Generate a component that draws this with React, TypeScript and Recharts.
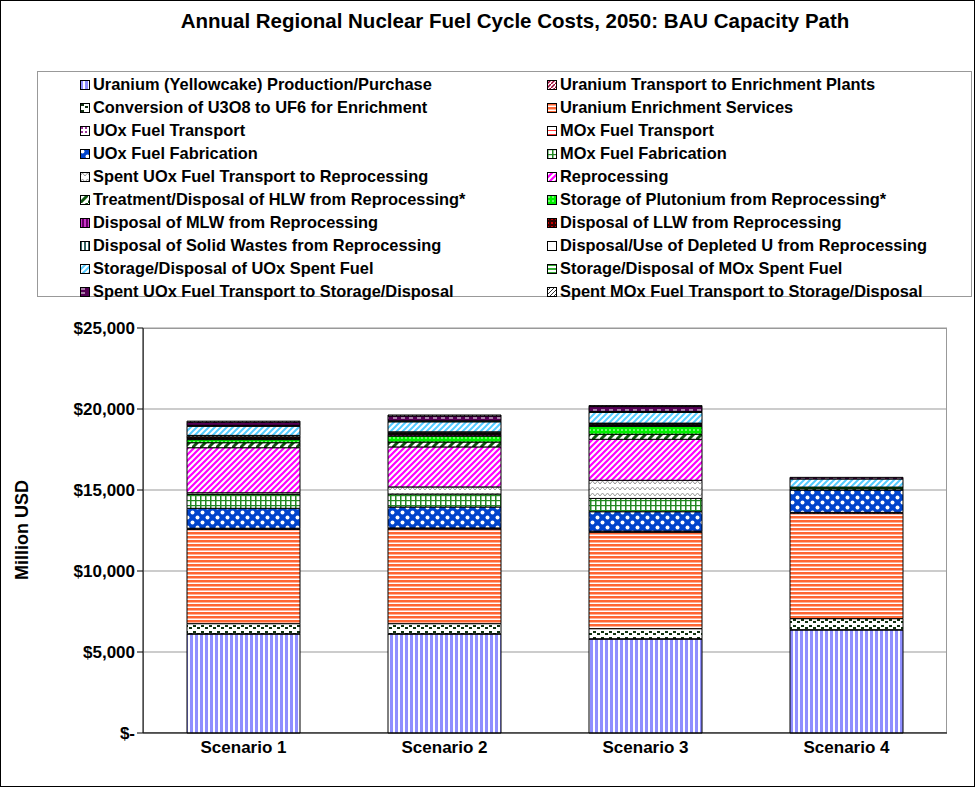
import { BarChart, Bar, XAxis, YAxis, CartesianGrid } from 'recharts';

const scenarios = ['Scenario 1', 'Scenario 2', 'Scenario 3', 'Scenario 4'];

const seriesNames = [
  'Uranium (Yellowcake) Production/Purchase',
  'Uranium Transport to Enrichment Plants',
  'Conversion of U3O8 to UF6 for Enrichment',
  'Uranium Enrichment Services',
  'UOx Fuel Transport',
  'MOx Fuel Transport',
  'UOx Fuel Fabrication',
  'MOx Fuel Fabrication',
  'Spent UOx Fuel Transport to Reprocessing',
  'Reprocessing',
  'Treatment/Disposal of HLW from Reprocessing*',
  'Storage of Plutonium from Reprocessing*',
  'Disposal of MLW from Reprocessing',
  'Disposal of LLW from Reprocessing',
  'Disposal of Solid Wastes from Reprocessing',
  'Disposal/Use of Depleted U from Reprocessing',
  'Storage/Disposal of UOx Spent Fuel',
  'Storage/Disposal of MOx Spent Fuel',
  'Spent UOx Fuel Transport to Storage/Disposal',
  'Spent MOx Fuel Transport to Storage/Disposal',
];

// values per series, one per scenario (million USD)
const yellowcake = [6110, 6110, 5800, 6360];
const transportEnrich = [20, 20, 20, 20];
const conversion = [620, 620, 620, 680];
const enrichment = [5820, 5840, 5950, 6510];
const uoxTransport = [50, 50, 50, 50];
const moxTransport = [20, 20, 20, 0];
const uoxFab = [1230, 1290, 1200, 1380];
const moxFab = [860, 800, 820, 0];
const spentToReproc = [100, 440, 1120, 0];
const reprocessing = [2780, 2470, 2530, 0];
const hlw = [310, 300, 310, 80];
const plutonium = [190, 370, 490, 100];
const mlw = [80, 80, 60, 0];
const llw = [80, 80, 60, 0];
const solidWaste = [80, 80, 60, 0];
const depletedU = [20, 20, 20, 0];
const uoxStorage = [560, 620, 660, 500];
const moxStorage = [60, 60, 60, 0];
const uoxToStorage = [200, 300, 300, 100];
const moxToStorage = [60, 60, 60, 0];

const seriesValues = [
  yellowcake, transportEnrich, conversion, enrichment, uoxTransport, moxTransport,
  uoxFab, moxFab, spentToReproc, reprocessing, hlw, plutonium, mlw, llw,
  solidWaste, depletedU, uoxStorage, moxStorage, uoxToStorage, moxToStorage,
];

const yTicks = [0, 5000, 10000, 15000, 20000, 25000];

const data = scenarios.map((name, i) => {
  const row: Record<string, number | string> = { name };
  seriesValues.forEach((vals, s) => (row['s' + s] = vals[i]));
  return row;
});

const font = '"Liberation Sans", Arial, sans-serif';

function Patterns() {
  const p = (id: string, w: number, h: number, children: any, bg = '#fff') => (
    <pattern id={id} width={w} height={h} patternUnits="userSpaceOnUse">
      <rect width={w} height={h} fill={bg} />
      {children}
    </pattern>
  );
  return (
    <svg width={0} height={0} style={{ position: 'absolute' }}>
      <defs>
        {p('p0', 5, 5, <rect width={3} height={5} fill="#8f8fff" />)}
        {p('p1', 4, 4, <path d="M0 4L4 0" stroke="#990033" strokeWidth={1.5} />)}
        {p('p2', 8, 6, <><rect x={1} y={1} width={3} height={2} fill="#113311" /><rect x={5} y={3} width={3} height={2} fill="#113311" /></>)}
        {p('p3', 4, 4, <rect width={4} height={2.5} fill="#ff6633" />)}
        {p('p4', 4, 4, <rect x={1} y={1} width={2} height={2} fill="#993399" />)}
        {p('p5', 4, 4, <rect width={4} height={1} fill="#ff3333" />)}
        {p('p6', 10, 10, <><rect width={10} height={10} fill="#0044cc" /><circle cx={2.5} cy={2.5} r={2} fill="#fff" /><circle cx={7.5} cy={7.5} r={2} fill="#fff" /></>)}
        {p('p7', 5, 5, <><rect width={1.5} height={5} fill="#228822" /><rect width={5} height={1.2} fill="#228822" /></>)}
        {p('p8', 10, 6, <path d="M0 4L2.5 1L5 4L7.5 1L10 4" stroke="#999" fill="none" strokeWidth={1} />)}
        {p('p9', 6, 6, <path d="M-1 1L1 -1M0 6L6 0M5 7L7 5" stroke="#ff00ff" strokeWidth={2.2} />)}
        {p('p10', 8, 8, <path d="M0 8L8 0" stroke="#115511" strokeWidth={3} />)}
        {p('p11', 4, 4, <circle cx={2} cy={2} r={0.8} fill="#fff" />, '#00ee00')}
        {p('p12', 4, 4, <rect width={2} height={4} fill="#cc33cc" />, '#660066')}
        {p('p13', 4, 4, <rect width={2} height={2} fill="#cc0000" />, '#330000')}
        {p('p14', 4, 4, <rect width={2} height={4} fill="#336666" />)}
        {p('p15', 4, 4, <></>)}
        {p('p16', 6, 6, <path d="M-1 1L1 -1M0 6L6 0M5 7L7 5" stroke="#55ccff" strokeWidth={2} />)}
        {p('p17', 4, 4, <rect width={4} height={2} fill="#33aa33" />)}
        {p('p18', 8, 4, <rect x={1} y={1.5} width={4} height={1} fill="#fff" />, '#550055')}
        {p('p19', 4, 4, <path d="M0 4L4 0" stroke="#333" strokeWidth={1} />)}
      </defs>
    </svg>
  );
}

const fmt = (v: number) => (v === 0 ? '$-' : '$' + v.toLocaleString('en-US'));

export default function App() {
  return (
    <div style={{ position: 'absolute', left: 0, top: 0, width: 975, height: 787, fontFamily: font, background: '#fff' }}>
      <Patterns />
      <div style={{ position: 'absolute', left: 0, top: 0, width: 973, height: 785, border: '1px solid #000' }} />
      <div style={{ position: 'absolute', top: 9, width: 1030, textAlign: 'center', fontWeight: 'bold', fontSize: 20.5 }}>
        Annual Regional Nuclear Fuel Cycle Costs, 2050: BAU Capacity Path
      </div>
      <div style={{ position: 'absolute', left: 37, top: 71, width: 935, height: 226, border: '1px solid #999', boxSizing: 'border-box' }}>
        {seriesNames.map((n, i) => (
          <div key={i} style={{ position: 'absolute', left: 42, top: 3 + Math.floor(i / 2) * 23, ...(i % 2 === 1 ? { left: 509 } : {}), fontSize: 16.4, fontWeight: 'bold', whiteSpace: 'nowrap', display: 'flex', alignItems: 'center' }}>
            <svg width={10} height={10} style={{ marginRight: 3 }}>
              <rect x={0.5} y={0.5} width={9} height={9} fill={`url(#p${i})`} stroke="#000" />
            </svg>
            {n}
          </div>
        ))}
      </div>
      <div style={{ position: 'absolute', left: 143, top: 328, width: 804, height: 405, border: '1px solid #999', boxSizing: 'border-box' }} />
      <div style={{ position: 'absolute', left: 22, top: 530, transform: 'translate(-50%,-50%) rotate(-90deg)', fontWeight: 'bold', fontSize: 18, whiteSpace: 'nowrap' }}>
        Million USD
      </div>
      <div style={{ position: 'absolute', left: 0, top: 0 }}>
        <BarChart width={975} height={787} data={data} margin={{ top: 328, right: 28, bottom: 24, left: 63 }} barSize={113}>
          <CartesianGrid vertical={false} stroke="#999" />
          <XAxis dataKey="name" tickLine={false} stroke="#000" tick={{ fill: '#000', fontSize: 17, fontWeight: 'bold', fontFamily: font }} height={30} />
          <YAxis domain={[0, 25000]} ticks={yTicks} tickFormatter={fmt} width={80} stroke="#000" tick={{ fill: '#000', fontSize: 17, fontWeight: 'bold', fontFamily: font }} />
          {seriesNames.map((n, i) => (
            <Bar key={i} dataKey={'s' + i} name={n} stackId="a" fill={`url(#p${i})`} stroke="#000" strokeWidth={1} isAnimationActive={false} />
          ))}
        </BarChart>
      </div>
    </div>
  );
}
